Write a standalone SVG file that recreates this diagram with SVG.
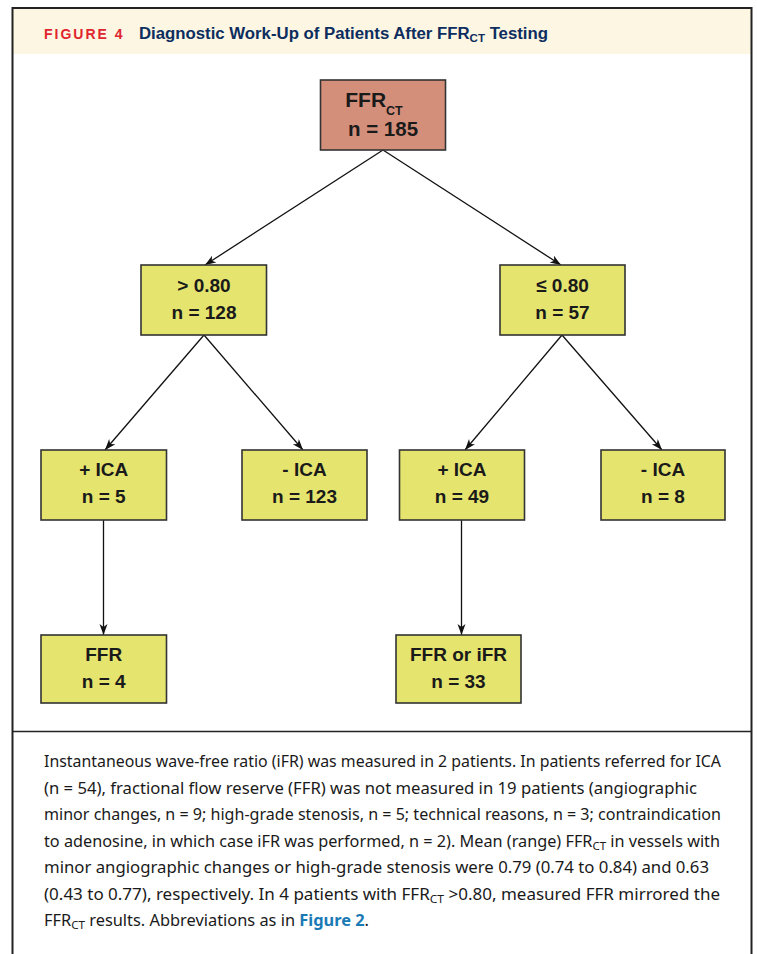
<svg xmlns="http://www.w3.org/2000/svg" width="757" height="954" viewBox="0 0 757 954">
<defs>
<marker id="ah" markerUnits="userSpaceOnUse" markerWidth="12" markerHeight="10" refX="11" refY="4" orient="auto">
<path d="M0,0 L11,4 L0,8 L3,4 Z" fill="#111"/>
</marker>
<style>
.box{fill:#e4e46e;stroke:#333;stroke-width:1.6}
.top{fill:#d48f7b;stroke:#333;stroke-width:1.6}
.lbl{font-family:"Liberation Sans",Arial,sans-serif;font-weight:bold;font-size:19px;fill:#1a1a1a;text-anchor:middle}
.con{stroke:#111;stroke-width:1.3;fill:none;marker-end:url(#ah)}
.cap{font-family:"Noto Sans","Open Sans",sans-serif;font-size:15.5px;fill:#1a1a1a}
</style>
</defs>
<rect x="0" y="0" width="757" height="954" fill="#fff"/>
<rect x="13" y="8" width="738" height="46" fill="#fdf6e3"/>
<path d="M12.5,960 V8 H751.5 V960" fill="none" stroke="#222" stroke-width="2"/>
<line x1="12" y1="731.5" x2="752" y2="731.5" stroke="#222" stroke-width="1.6"/>
<text x="44" y="39" font-family="Liberation Sans,Arial,sans-serif" font-weight="bold" font-size="14" letter-spacing="2" fill="#e0252e">FIGURE 4</text>
<text x="139" y="39" font-family="Liberation Sans,Arial,sans-serif" font-weight="bold" font-size="16" fill="#0c2d5e" textLength="409" lengthAdjust="spacingAndGlyphs">Diagnostic Work-Up of Patients After FFR<tspan font-size="11" dy="3">CT</tspan><tspan dy="-3"> Testing</tspan></text>

<g id="connectors">
<line class="con" x1="383" y1="150" x2="205" y2="265"/>
<line class="con" x1="383" y1="150" x2="561" y2="265"/>
<line class="con" x1="204" y1="335" x2="105" y2="450"/>
<line class="con" x1="204" y1="335" x2="303" y2="450"/>
<line class="con" x1="562" y1="335" x2="465" y2="450"/>
<line class="con" x1="562" y1="335" x2="662" y2="450"/>
<line class="con" x1="103.5" y1="520" x2="103.5" y2="635"/>
<line class="con" x1="461.5" y1="520" x2="461.5" y2="635"/>
</g>

<g id="n-ffrct">
<rect class="top" x="320.5" y="80" width="125" height="70"/>
<text class="lbl" x="383" y="106.5" style="font-size:21px"><tspan x="374">FFR</tspan><tspan font-size="12.5" dy="8.5">CT</tspan></text>
<text class="lbl" x="383" y="136" style="font-size:20.5px">n = 185</text>
</g>
<g id="n-gt080">
<rect class="box" x="141" y="265" width="125.5" height="70"/>
<text class="lbl" x="204" y="291.5">&gt; 0.80</text>
<text class="lbl" x="204" y="318.5">n = 128</text>
</g>
<g id="n-le080">
<rect class="box" x="500" y="265" width="125" height="70"/>
<text class="lbl" x="562.5" y="291.5">≤ 0.80</text>
<text class="lbl" x="562.5" y="318.5">n = 57</text>
</g>
<g id="n-ica5">
<rect class="box" x="41" y="450" width="125.5" height="70"/>
<text class="lbl" x="103.7" y="476">+ ICA</text>
<text class="lbl" x="103.7" y="503">n = 5</text>
</g>
<g id="n-noica123">
<rect class="box" x="242" y="450" width="125" height="70"/>
<text class="lbl" x="304.5" y="476">- ICA</text>
<text class="lbl" x="304.5" y="503">n = 123</text>
</g>
<g id="n-ica49">
<rect class="box" x="399.5" y="450" width="125" height="70"/>
<text class="lbl" x="462" y="476">+ ICA</text>
<text class="lbl" x="462" y="503">n = 49</text>
</g>
<g id="n-noica8">
<rect class="box" x="601" y="450" width="124" height="70"/>
<text class="lbl" x="663" y="476">- ICA</text>
<text class="lbl" x="663" y="503">n = 8</text>
</g>
<g id="n-ffr4">
<rect class="box" x="41" y="635" width="125.5" height="68"/>
<text class="lbl" x="103.7" y="661">FFR</text>
<text class="lbl" x="103.7" y="687.5">n = 4</text>
</g>
<g id="n-ffr33">
<rect class="box" x="396" y="635" width="125" height="68"/>
<text class="lbl" x="458.5" y="661">FFR or iFR</text>
<text class="lbl" x="458.5" y="687.5">n = 33</text>
</g>

<g id="caption" class="cap">
<text x="44" y="767" textLength="677" lengthAdjust="spacingAndGlyphs">Instantaneous wave-free ratio (iFR) was measured in 2 patients. In patients referred for ICA</text>
<text x="44" y="793.5" textLength="653" lengthAdjust="spacingAndGlyphs">(n = 54), fractional flow reserve (FFR) was not measured in 19 patients (angiographic</text>
<text x="44" y="820" textLength="677" lengthAdjust="spacingAndGlyphs">minor changes, n = 9; high-grade stenosis, n = 5; technical reasons, n = 3; contraindication</text>
<text x="44" y="846.5" textLength="676" lengthAdjust="spacingAndGlyphs">to adenosine, in which case iFR was performed, n = 2). Mean (range) FFR<tspan font-size="11" dy="3">CT</tspan><tspan dy="-3"> in vessels with</tspan></text>
<text x="44" y="873" textLength="665" lengthAdjust="spacingAndGlyphs">minor angiographic changes or high-grade stenosis were 0.79 (0.74 to 0.84) and 0.63</text>
<text x="44" y="899.5" textLength="676" lengthAdjust="spacingAndGlyphs">(0.43 to 0.77), respectively. In 4 patients with FFR<tspan font-size="11" dy="3">CT</tspan><tspan dy="-3"> &gt;0.80, measured FFR mirrored the</tspan></text>
<text x="44" y="926" textLength="325" lengthAdjust="spacingAndGlyphs">FFR<tspan font-size="11" dy="3">CT</tspan><tspan dy="-3"> results. Abbreviations as in </tspan><tspan font-weight="bold" fill="#1a7ab5">Figure 2</tspan>.</text>
</g>
</svg>
